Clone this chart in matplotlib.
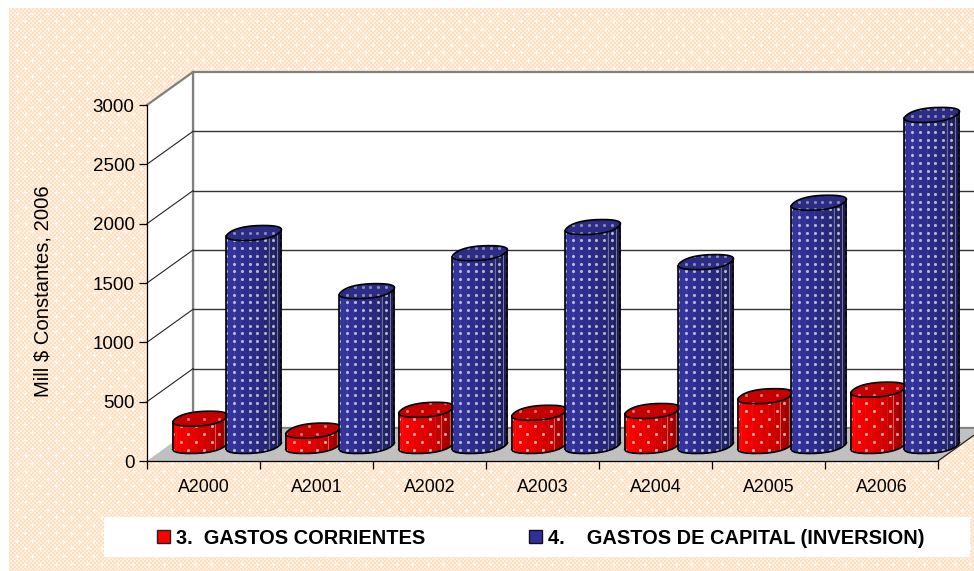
import numpy as np
import matplotlib
matplotlib.use('Agg')
import matplotlib.pyplot as plt
from matplotlib.patches import Polygon, Rectangle, Patch

plt.rcParams['font.family'] = ['Liberation Sans', 'DejaVu Sans']

years = ['A2000', 'A2001', 'A2002', 'A2003', 'A2004', 'A2005', 'A2006']
corrientes = [230, 130, 305, 280, 295, 420, 475]
capital = [1795, 1305, 1625, 1845, 1550, 2050, 2790]
yticks = [0, 500, 1000, 1500, 2000, 2500, 3000]
label_red = '3.  GASTOS CORRIENTES'
label_blue = '4.    GASTOS DE CAPITAL (INVERSION)'

W, H = 974, 571
# pixels -> data units of the main axes
PX = 7 / (938 - 147)
PY = 3000 / (461 - 105)
DEPTH_X = 46 * PX
DEPTH_Y = 33 * PY

fig = plt.figure(figsize=(W / 100, H / 100), dpi=100, facecolor='white')

# background texture
bg = fig.add_axes([0, 0, 1, 1], zorder=-1)
xx, yy = np.meshgrid(np.arange(W), np.arange(H))
img = np.zeros((H, W, 3))
check = ((xx // 2 + yy // 2) % 2 == 0)
c1 = np.array(matplotlib.colors.to_rgb('#ffdfc0'))
c2 = np.array(matplotlib.colors.to_rgb('#fff0e2'))
img[check] = c1
img[~check] = c2
for row, y0 in enumerate(np.arange(14, H, 7.75)):
    for x0 in np.arange(17 + (row % 2) * 8, W, 15.5):
        px, py = int(x0), int(y0)
        for d, m in ((0, 1.0), (1, 0.9), (2, 0.55)):
            for qx, qy in ((px + d, py), (px - d, py), (px, py + d), (px, py - d)):
                if 0 <= qx < W and 0 <= qy < H:
                    img[qy, qx] = img[qy, qx] * (1 - m) + m
img[:8, :] = 1
img[:, :9] = 1
bg.imshow(img, interpolation='nearest', aspect='auto')
bg.axis('off')

ax = fig.add_axes([147 / W, 1 - 461 / H, (938 - 147) / W, (461 - 105) / H])
ax.patch.set_alpha(0)
ax.set_xlim(0, 7)
ax.set_ylim(0, 3000)

# walls and floor
far = 9
ax.add_patch(Polygon([(DEPTH_X, DEPTH_Y), (far, DEPTH_Y), (far, 3000 + DEPTH_Y), (DEPTH_X, 3000 + DEPTH_Y)],
                     fc='white', ec='#808080', lw=1.6, clip_on=False, zorder=0.5))
ax.add_patch(Polygon([(0, 0), (DEPTH_X, DEPTH_Y), (DEPTH_X, 3000 + DEPTH_Y), (0, 3000)],
                     fc='white', ec='none', clip_on=False, zorder=0.6))
ax.plot([0, DEPTH_X], [3000, 3000 + DEPTH_Y], color='#808080', lw=1.6, clip_on=False, zorder=0.7)
ax.plot([DEPTH_X, DEPTH_X], [DEPTH_Y, 3000 + DEPTH_Y], color='#808080', lw=1.6, clip_on=False, zorder=0.7)
ax.add_patch(Polygon([(0, 0), (7, 0), (7 + DEPTH_X, DEPTH_Y), (DEPTH_X, DEPTH_Y)],
                     fc='#c0c0c0', ec='none', clip_on=False, zorder=0.8))
ax.plot([DEPTH_X, far], [DEPTH_Y, DEPTH_Y], color='#808080', lw=1.2, clip_on=False, zorder=0.9)
ax.plot([7, 7 + DEPTH_X], [0, DEPTH_Y], color='#222222', lw=0.9, clip_on=False, zorder=0.9)
for v in yticks[1:-1]:
    ax.plot([0, DEPTH_X], [v, v + DEPTH_Y], color='#222222', lw=0.8, clip_on=False, zorder=0.9)
    ax.plot([DEPTH_X, far], [v + DEPTH_Y, v + DEPTH_Y], color='#333333', lw=1.0, clip_on=False, zorder=0.9)


def shade(stops, f):
    rgb = np.array([matplotlib.colors.to_rgb(c) for c in stops])
    pos = np.linspace(0, 1, len(stops))
    return [np.interp(f, pos, rgb[:, i]) for i in range(3)]


def cylinder(pos, value, stops, top_color, staggered, z):
    cx = pos + 0.4545 * DEPTH_X
    cy = 0.4545 * DEPTH_Y
    a = 25 * PX
    b = 9.5 * PX
    c = 7.5 * PY
    # rounded-box outline of the footprint, sheared along the depth direction
    tt = np.linspace(0, 2 * np.pi, 241)
    u = np.sign(np.cos(tt)) * np.abs(np.cos(tt)) ** 0.85
    v = np.sign(np.sin(tt)) * np.abs(np.sin(tt)) ** 0.85
    ox = a * u + b * v
    oy = c * v
    right = np.argmax(ox)
    left = np.argmin(ox)
    # walk the lower side of the outline from the left end to the right end
    idx = np.arange(left, right + 241 if right < left else right + 1) % 240
    pick = idx[np.linspace(0, len(idx) - 1, 13).astype(int)]
    ex = cx + ox[pick]
    ey = oy[pick]

    for i in range(12):
        col = shade(stops, (i + 0.5) / 12)
        ax.add_patch(Polygon([(ex[i], cy + ey[i]), (ex[i + 1], cy + ey[i + 1]),
                              (ex[i + 1], cy + value + ey[i + 1]), (ex[i], cy + value + ey[i])],
                             fc=col, ec=col, lw=0.3, clip_on=False, zorder=z))
    for i in (8, 10):
        ax.plot([ex[i], ex[i]], [cy + ey[i], cy + value + ey[i]], color='white', alpha=0.35, lw=0.7,
                clip_on=False, zorder=z + 0.1)

    top = np.column_stack([cx + ox, cy + value + oy])
    top_patch = Polygon(top, fc=top_color, ec='none', clip_on=False, zorder=z + 0.1)
    ax.add_patch(top_patch)

    body = np.vstack([np.column_stack([ex, cy + ey]),
                      np.column_stack([ex[::-1], cy + value + ey[::-1]])])
    body_patch = Polygon(body, fc='none', ec='none', transform=ax.transData)
    ax.add_patch(body_patch)

    # dotted fill pattern, clipped to the bar
    gx = np.arange(ex.min(), ex.max() + 7.75 * PX, 7.75 * PX)
    gy = np.arange(cy - c + 4 * PY, cy + value + c, 7.75 * PY)
    dx, dy = [], []
    for j, yv in enumerate(gy):
        for k, xv in enumerate(gx):
            if staggered and (j + k) % 2:
                continue
            dx.append(xv)
            dy.append(yv)
    dots = ax.scatter(dx, dy, s=5, c='white', alpha=0.65, linewidths=0, zorder=z + 0.2, clip_on=True)
    dots.set_clip_path(body_patch)
    dots2 = ax.scatter(dx, dy, s=5, c='white', alpha=0.45, linewidths=0, zorder=z + 0.25, clip_on=True)
    dots2.set_clip_path(top_patch)

    # outlines
    ax.plot(top[:, 0], top[:, 1], color='black', lw=1.2, clip_on=False, zorder=z + 0.3)
    ax.plot(ex, cy + ey, color='black', lw=1.2, clip_on=False, zorder=z + 0.3)
    ax.plot([ex[0], ex[0]], [cy + ey[0], cy + value + ey[0]], color='black', lw=1.2, clip_on=False, zorder=z + 0.3)
    ax.plot([ex[-1], ex[-1]], [cy + ey[-1], cy + value + ey[-1]], color='black', lw=1.2, clip_on=False, zorder=z + 0.3)


RED = ['#ff0000', '#ff0000', '#e60000', '#cc0000', '#a00000', '#7a0000']
BLUE = ['#33339e', '#33339e', '#2c2c8e', '#262678', '#1f1f60', '#181848']
for i in range(len(years)):
    cylinder(i + 0.287, corrientes[i], RED, '#c40000', True, 3 + i)
    cylinder(i + 0.761, capital[i], BLUE, '#2c2c84', False, 3.5 + i)

# axes
for s in ('top', 'right'):
    ax.spines[s].set_visible(False)
ax.spines['left'].set_linewidth(0.9)
ax.spines['bottom'].set_linewidth(0.9)
ax.set_yticks(yticks)
ax.tick_params(axis='y', length=6, width=0.9, pad=3, labelsize=13.5)
ax.set_xticks(range(8))
ax.set_xticklabels([])
ax.set_xticks(np.arange(7) + 0.5, minor=True)
ax.set_xticklabels(years, minor=True, fontsize=12.8)
ax.tick_params(axis='x', which='major', length=6, width=0.9)
ax.tick_params(axis='x', which='minor', length=0, pad=13)
ax.set_ylabel('Mill $ Constantes, 2006', fontsize=14.6, labelpad=28.5, y=0.477)

# legend band
fig.add_artist(Rectangle((104 / W, 1 - 557 / H), 866 / W, 40 / H, transform=fig.transFigure,
                         fc='white', ec='none'))
handles = [Patch(fc='#ff0000', ec='#222222', lw=1.0, label=label_red),
           Patch(fc='#30309c', ec='#111111', lw=1.0, label=label_blue)]
fig.legend(handles=handles, loc='center', ncol=2, mode='expand', frameon=False,
           bbox_to_anchor=(157 / W, 1 - 558 / H, (924 - 157) / W, 40 / H), bbox_transform=fig.transFigure,
           prop={'weight': 'bold', 'size': 14.4}, handlelength=0.65, handleheight=0.65, handletextpad=0.3,
           borderaxespad=0, borderpad=0)

fig.savefig('out.png', dpi=100)
